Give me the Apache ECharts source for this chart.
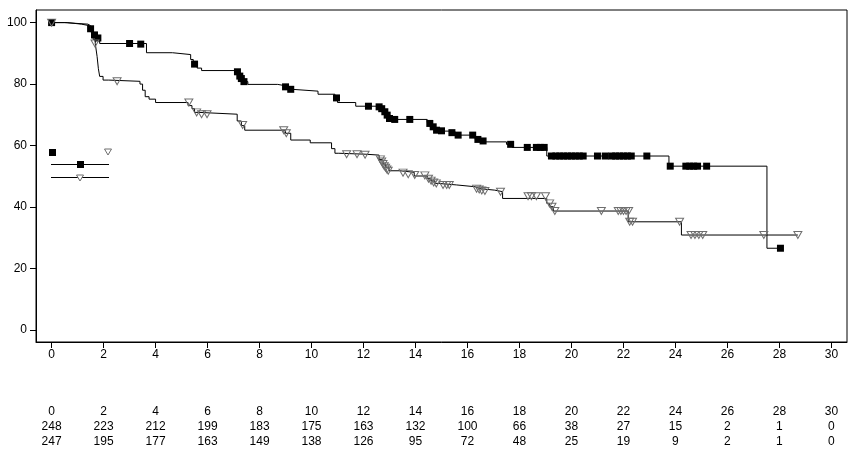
<!DOCTYPE html>
<html>
<head>
<meta charset="utf-8">
<script src="https://cdn.jsdelivr.net/npm/echarts@6/dist/echarts.min.js"></script>
<style>
html,body{margin:0;padding:0;background:#fff;}
#chart{width:854px;height:459px;}
</style>
</head>
<body>
<div id="chart"></div>
<script>
// ---- Data ----
const timeTicks = [0,2,4,6,8,10,12,14,16,18,20,22,24,26,28,30];
const yTicks = [0,20,40,60,80,100];
const atRiskGroup1 = [248,223,212,199,183,175,163,132,100,66,38,27,15,2,1,0];
const atRiskGroup2 = [247,195,177,163,149,138,126,95,72,48,25,19,9,2,1,0];

// survival steps: [time, level from that time on]
const curveGroup1 = [
  [0,100],[0.6,99.5],[1.15,99],[1.45,98],[1.6,96.5],[1.7,95],[1.85,93.2],
  [3.65,90.2],[4.65,89.6],[5.35,88],[5.45,86.5],[5.6,85.2],[5.77,84.4],
  [7.05,84],[7.2,82.6],[7.3,81.8],[7.4,80.8],[7.55,79.9],[8.7,79.3],
  [9.1,78.3],[9.25,77.7],[10.25,76.7],[10.9,75.5],[11.0,74.0],[11.7,72.8],
  [12.7,71.5],[12.85,70.2],[13.0,68.5],[14.45,67.5],[14.6,66],[14.75,64.7],
  [15.35,64.2],[15.6,63.4],[16.3,62.0],[16.55,61.2],[17.5,60.4],[17.72,59.4],
  [19.05,56.6],[23.75,53.3],[27.52,26.6],[28.04,26.6]
];
const curveGroup2 = [
  [0,100],[0.5,99.5],[1.4,99],[1.5,97],[1.6,94.5],[1.68,93.2],[1.75,89],
  [1.8,85],[1.85,82.5],[1.98,81.3],[2.2,80.9],[3.4,80],[3.5,78],[3.6,75.9],
  [3.75,75.1],[4.0,74],[5.25,73],[5.4,72],[5.5,70.8],[5.65,70.2],[7.14,68],
  [7.3,66.5],[7.43,65],[9.0,64],[9.2,61.8],[9.95,60.9],[10.77,59],[10.9,57.5],
  [11.05,57.2],[12.06,56.9],[12.6,55.5],[12.75,54],[12.85,52.8],[12.98,51.8],
  [13.4,51.3],[13.95,50.1],[14.45,49.3],[14.6,48.5],[14.75,47.7],[14.87,47.2],
  [15.57,46.6],[16.3,46.0],[16.45,45.5],[17.05,45.0],[17.35,42.8],[19.05,41.2],
  [19.15,40.1],[19.3,38.7],[22.18,35.2],[24.23,30.9],[28.71,30.9]
];

// censored observations
const censorGroup1 = [
  [0,100],[1.5,98],[1.65,96],[1.78,95],[3.0,93.2],[3.43,93.0],[5.5,86.5],
  [7.15,84],[7.24,82.6],[7.3,81.8],[7.4,80.8],[9.0,79.1],[9.2,78.3],[10.96,75.5],
  [12.19,72.8],[12.6,72.6],[12.7,72],[12.82,71],[12.91,69.9],[13.0,68.8],
  [13.2,68.5],[13.78,68.5],[14.55,67.2],[14.68,66.1],[14.81,65],[15.0,64.8],
  [15.4,64.2],[15.64,63.4],[16.2,63.4],[16.4,62],[16.6,61.5],[17.66,60.4],
  [18.3,59.4],[18.65,59.4],[18.8,59.4],[18.95,59.4],[19.23,56.6],[19.4,56.6],
  [19.55,56.6],[19.7,56.6],[19.85,56.6],[20.0,56.6],[20.15,56.6],[20.3,56.6],
  [20.45,56.6],[21.0,56.6],[21.3,56.6],[21.55,56.6],[21.7,56.6],[21.85,56.6],
  [22.0,56.6],[22.15,56.6],[22.3,56.6],[22.9,56.6],[23.8,53.3],[24.4,53.3],
  [24.55,53.3],[24.7,53.3],[24.85,53.3],[25.2,53.3],[28.04,26.6]
];
const censorGroup2 = [
  [0,100],[1.67,93.2],[2.52,80.9],[5.28,74],[5.58,70.8],[5.77,70.2],[5.98,70.2],
  [7.35,66.7],[8.93,65],[9.03,64],[11.35,57.2],[11.75,57.2],[12.06,57.0],
  [12.65,55.5],[12.7,54.8],[12.75,54],[12.8,53.3],[12.85,52.8],[12.9,52.2],
  [12.95,51.8],[13.52,51.2],[13.72,50.7],[13.97,50.4],[14.36,50.3],[14.5,49.2],
  [14.6,48.6],[14.7,48],[14.8,47.7],[15.06,47.2],[15.2,47.2],[15.3,47.2],
  [16.35,46.0],[16.45,45.7],[16.55,45.4],[16.67,45.2],[17.27,45],[18.33,43.5],
  [18.46,43.5],[18.65,43.5],[19.0,43.5],[19.16,41.2],[19.25,40.1],[19.36,38.7],
  [21.15,38.7],[21.8,38.7],[21.9,38.7],[22.0,38.7],[22.1,38.7],[22.2,38.7],
  [22.24,35.2],[22.35,35.2],[24.16,35.2],[24.6,30.9],[24.75,30.9],[24.9,30.9],
  [25.05,30.9],[27.4,30.9],[28.71,30.9]
];

// ---- Chart ----
const FONT = 'Liberation Sans, Arial, sans-serif';
const chart = echarts.init(document.getElementById('chart'), null, {renderer: 'canvas'});

function tableAxis(offset, formatter) {
  return {
    type: 'value', position: 'bottom', min: -0.6, max: 30.6, offset: offset,
    axisLine: {show: false, onZero: false}, axisTick: {show: false}, splitLine: {show: false},
    axisLabel: {
      customValues: timeTicks, margin: 7, color: '#000', fontSize: 12, fontFamily: FONT,
      formatter: formatter
    }
  };
}

const triPath = 'path://M0,0 L10,0 L5,9 Z';

chart.setOption({
  animation: false,
  backgroundColor: '#fff',
  grid: {left: 36, top: 10, right: 7, bottom: 117, show: true, borderColor: '#000', borderWidth: 1, backgroundColor: 'transparent'},
  xAxis: [
    {
      type: 'value', min: -0.6, max: 30.6, position: 'bottom',
      axisLine: {show: true, onZero: false, lineStyle: {color: '#000', width: 1}},
      axisTick: {show: true, customValues: timeTicks, length: 6, lineStyle: {color: '#000'}},
      axisLabel: {customValues: timeTicks, margin: 7, color: '#000', fontSize: 12, fontFamily: FONT},
      splitLine: {show: false}
    },
    tableAxis(57, v => String(v)),
    tableAxis(72, v => { const i = timeTicks.indexOf(Math.round(v)); return i >= 0 ? String(atRiskGroup1[i]) : ''; }),
    tableAxis(87, v => { const i = timeTicks.indexOf(Math.round(v)); return i >= 0 ? String(atRiskGroup2[i]) : ''; })
  ],
  yAxis: {
    type: 'value', min: -3.9, max: 104.1, position: 'left',
    axisLine: {show: true, onZero: false, lineStyle: {color: '#000', width: 1}},
    axisTick: {show: true, customValues: yTicks, length: 6, lineStyle: {color: '#000'}},
    axisLabel: {customValues: yTicks, margin: 9, color: '#000', fontSize: 12, fontFamily: FONT},
    splitLine: {show: false}
  },
  series: [
    {
      type: 'line', step: 'end', data: curveGroup1, showSymbol: false, symbol: 'none',
      lineStyle: {color: '#000', width: 1}, z: 2
    },
    {
      type: 'line', step: 'end', data: curveGroup2, showSymbol: false, symbol: 'none',
      lineStyle: {color: '#000', width: 1}, z: 2
    },
    {
      type: 'scatter', data: censorGroup1, symbol: 'rect', symbolSize: 7,
      itemStyle: {color: '#000', opacity: 1}, z: 3
    },
    {
      type: 'scatter', data: censorGroup2, symbol: triPath, symbolSize: [8, 7],
      itemStyle: {color: 'rgba(255,255,255,0)', borderColor: '#6e6e6e', borderWidth: 1, opacity: 1}, z: 4
    }
  ],
  graphic: [
    {type: 'rect', shape: {x: 49, y: 149, width: 7, height: 7}, style: {fill: '#000'}},
    {type: 'polygon', shape: {points: [[104.5,149],[111.5,149],[108,155]]}, style: {fill: 'none', stroke: '#6e6e6e', lineWidth: 1}},
    {type: 'line', shape: {x1: 51, y1: 164.5, x2: 109, y2: 164.5}, style: {stroke: '#000', lineWidth: 1}},
    {type: 'rect', shape: {x: 77, y: 161, width: 7, height: 7}, style: {fill: '#000'}},
    {type: 'line', shape: {x1: 51, y1: 177.5, x2: 109, y2: 177.5}, style: {stroke: '#000', lineWidth: 1}},
    {type: 'polygon', shape: {points: [[76.5,175],[83.5,175],[80,181]]}, style: {fill: '#fff', stroke: '#6e6e6e', lineWidth: 1}}
  ]
});
</script>
</body>
</html>
